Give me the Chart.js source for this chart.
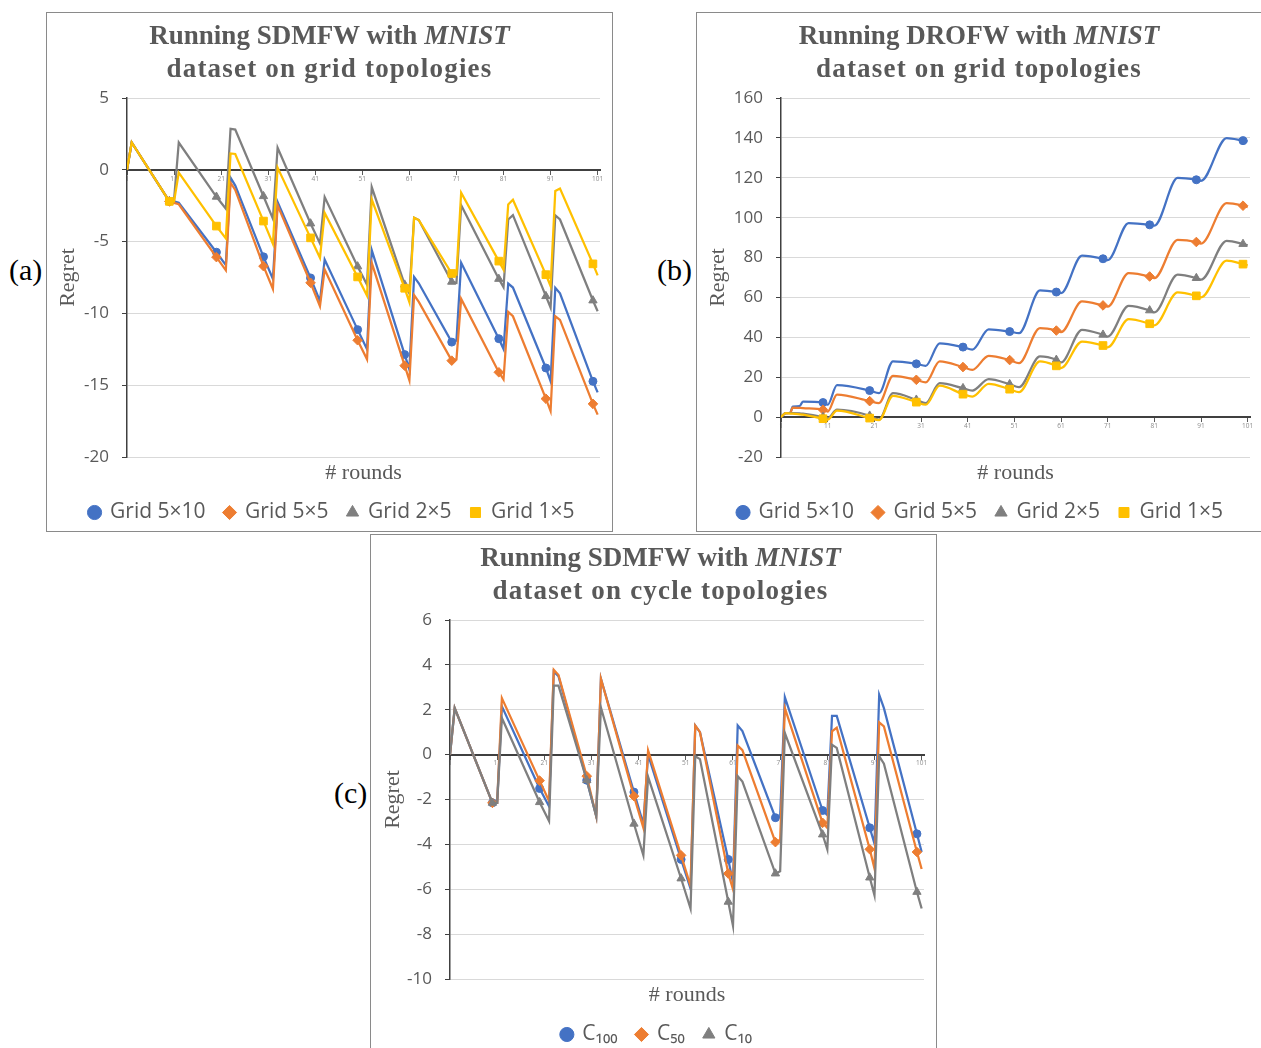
<!DOCTYPE html>
<html>
<head>
<meta charset="utf-8">
<title>Regret of SDMFW / DROFW on MNIST</title>
<script src="https://cdn.jsdelivr.net/npm/chart.js@4.4.1/dist/chart.umd.min.js"></script>
<style>
  html, body { margin: 0; padding: 0; background: #fff; }
  body { position: relative; width: 1261px; height: 1048px; overflow: hidden; }
  .panel { position: absolute; border: 1px solid #8a8a8a; box-sizing: border-box; height: 520px; }
  .panel canvas { position: absolute; left: 0; top: 0; }
  .title { position: absolute; left: 0; right: 0; top: 6px; text-align: center;
           font: bold 27px 'Liberation Serif', serif; color: #595959; line-height: 33px; }
  .title span { letter-spacing: 1.2px; }
  .tag { position: absolute; font: 30px 'Liberation Serif', serif; color: #000; line-height: 30px; }
</style>
</head>
<body>

<div class="tag" style="left:9px; top:255px;">(a)</div>
<div class="tag" style="left:657px; top:255px;">(b)</div>
<div class="tag" style="left:334px; top:778px;">(c)</div>

<div class="panel" style="left:46px; top:12px; width:567px;">
  <canvas id="chartA" width="565" height="518"></canvas>
  <div class="title">Running SDMFW with <i>MNIST</i><br><span>dataset on grid topologies</span></div>
</div>

<div class="panel" style="left:696px; top:12px; width:566px;">
  <canvas id="chartB" width="564" height="518"></canvas>
  <div class="title">Running DROFW with <i>MNIST</i><br><span>dataset on grid topologies</span></div>
</div>

<div class="panel" style="left:370px; top:534px; width:567px;">
  <canvas id="chartC" width="565" height="518"></canvas>
  <div class="title" style="padding-left:14px;">Running SDMFW with <i>MNIST</i><br><span>dataset on cycle topologies</span></div>
</div>

<script>
// round labels on the zero line
const xTickLabels = [1, 11, 21, 31, 41, 51, 61, 71, 81, 91, 101];

// (a) SDMFW, grid topologies: rounds where the curves bend
const roundsA = [1, 2, 10, 11, 12, 20, 22, 23, 24, 30, 32, 33, 40, 42, 43, 50, 52, 53,
  60, 61, 62, 63, 70, 71, 72, 80, 81, 82, 83, 90, 91, 92, 93, 100, 101];
const gridA5x10 = [0, 1.9, -2.2, -2.2, -2.3, -5.74, -6.64, -0.55, -1.1, -6.06, -7.6, -2.25,
  -7.53, -9.15, -6.25, -11.13, -12.5, -5.6, -12.87, -13.9, -7.46, -7.9, -12.0, -11.9, -6.48,
  -11.76, -12.48, -7.92, -8.2, -13.8, -14.73, -8.22, -8.6, -14.73, -15.5];
const gridA5x5 = [0, 1.9, -2.2, -2.3, -2.4, -6.08, -7.0, -0.9, -1.4, -6.71, -8.3, -2.48,
  -7.87, -9.5, -6.94, -11.87, -13.2, -6.48, -13.64, -14.66, -8.73, -9.2, -13.29, -13.2, -8.99,
  -14.1, -14.6, -9.9, -10.2, -15.94, -16.8, -10.2, -10.45, -16.3, -17.05];
const gridA2x5 = [0, 1.9, -2.2, -2.1, 1.9, -1.88, -2.71, 2.86, 2.8, -1.84, -3.4, 1.54,
  -3.74, -5.13, -1.9, -6.73, -8.0, -1.2, -8.0, -8.6, -3.34, -3.5, -7.8, -7.87, -2.46,
  -7.6, -8.18, -3.46, -3.16, -8.8, -9.6, -3.18, -3.46, -9.1, -9.85];
const gridA1x5 = [0, 1.9, -2.2, -2.2, -0.2, -3.92, -4.78, 1.14, 1.1, -3.57, -5.16, 0.15,
  -4.74, -6.13, -3.0, -7.46, -8.76, -2.06, -8.25, -9.22, -3.34, -3.5, -7.22, -7.3, -1.6,
  -6.36, -6.95, -2.41, -2.09, -7.3, -8.1, -1.48, -1.3, -6.55, -7.35];
const yTicksA = [-20, -15, -10, -5, 0, 5];

// (b) DROFW, grid topologies
const roundsB = [1, 2, 3, 3.5, 5, 5.7, 10, 11, 13, 20, 22, 25, 30, 32, 35, 40, 42, 45.5,
  50, 52, 56.5, 60, 61, 65.5, 70, 71, 75.5, 80, 81, 86, 90, 91, 96.5, 100, 101];
const gridB5x10 = [0, 2.0, 2.2, 5.3, 5.5, 7.8, 7.3, 6.2, 16.0, 13.3, 12.0, 28.0, 26.7, 25.7,
  37.0, 35.1, 33.8, 44.0, 42.9, 42.1, 63.5, 62.7, 62.2, 81.0, 79.4, 78.7, 97.3, 96.4, 96.0,
  119.9, 119.0, 118.5, 139.9, 138.6, 138.2];
const gridB5x5 = [0, 2.0, 2.2, 4.8, 4.6, 4.5, 3.7, 2.8, 11.3, 8.0, 7.0, 20.7, 18.7, 17.4,
  27.9, 25.1, 23.7, 30.7, 28.6, 27.1, 44.6, 43.4, 42.6, 58.0, 56.0, 55.4, 72.2, 70.5, 69.7,
  88.9, 87.8, 87.0, 107.3, 106.0, 105.3];
const gridB2x5 = [0, 2.0, 2.0, 2.0, 1.9, 1.7, 0.0, -0.5, 3.7, 0.7, -1.3, 12.0, 8.7, 7.0,
  17.0, 14.5, 13.3, 19.0, 16.5, 15.0, 30.4, 28.7, 27.4, 43.8, 41.3, 40.4, 55.8, 53.5, 52.5,
  71.4, 69.7, 68.9, 88.4, 86.8, 86.1];
const gridB1x5 = [0, 2.0, 1.8, 1.7, 1.4, 1.2, -0.8, -1.3, 3.2, -0.5, -1.5, 10.7, 7.5, 6.2,
  15.8, 11.5, 10.3, 16.7, 14.0, 12.5, 27.9, 25.7, 24.6, 37.9, 35.9, 35.0, 49.1, 46.8, 46.0,
  62.5, 60.8, 60.0, 78.4, 76.7, 76.1];
const yTicksB = [-20, 0, 20, 40, 60, 80, 100, 120, 140, 160];

// (c) SDMFW, cycle topologies
const roundsC = [1, 2, 10, 11, 12, 20, 22, 23, 24, 30, 32, 33, 40, 42, 43, 50, 52, 53, 54,
  60, 61, 62, 63, 70, 71, 72, 80, 81, 82, 83, 90, 91, 92, 93, 100, 101];
const cycle100 = [0, 2.07, -2.15, -2.15, 2.15, -1.51, -2.3, 3.7, 3.5, -1.14, -2.74, 3.38,
  -1.67, -3.1, 0.0, -4.67, -5.97, 1.29, 1.0, -4.67, -5.7, 1.3, 1.05, -2.81, -2.78, 2.56,
  -2.49, -2.7, 1.73, 1.73, -3.26, -3.97, 2.67, 2.07, -3.53, -4.34];
const cycle50 = [0, 2.07, -2.15, -2.15, 2.52, -1.16, -2.07, 3.78, 3.55, -0.96, -2.74, 3.38,
  -1.85, -3.26, 0.19, -4.49, -5.85, 1.29, 1.0, -5.3, -6.0, 0.4, 0.2, -3.9, -3.8, 2.07,
  -3.04, -3.26, 1.04, 1.2, -4.22, -5.08, 1.44, 1.26, -4.34, -5.1];
const cycle10 = [0, 2.07, -2.15, -2.15, 1.63, -2.12, -2.96, 3.07, 3.07, -1.14, -2.74, 2.1,
  -3.08, -4.49, -0.99, -5.52, -6.86, -0.07, -0.2, -6.56, -7.63, -0.96, -1.2, -5.3, -5.2, 0.96,
  -3.56, -4.22, 0.44, 0.3, -5.48, -6.27, -0.07, -0.4, -6.12, -6.86];
const yTicksC = [-10, -8, -6, -4, -2, 0, 2, 4, 6];

const BLUE = '#4472C4', ORANGE = '#ED7D31', GRAY = '#7F7F7F', GOLD = '#FFC000';
const TEXT = '#595959', AXIS = '#404040';

Chart.defaults.font.family = "'Open Sans', sans-serif";

// markers only every tenth round
function series(label, rounds, values, color, style, radius, order) {
  return {
    label,
    data: rounds.map((r, i) => ({ x: r, y: values[i] })),
    borderColor: color,
    backgroundColor: color,
    borderWidth: 2.25,
    pointStyle: style,
    pointBorderWidth: 1,
    pointRadius: c => (c.raw && c.raw.x % 10 === 0 ? radius : 0),
    order,
  };
}

// box: left padding, y-axis width, right padding, y-title offset
function makeChart(id, datasets, yTicks, box, smooth) {
  return new Chart(document.getElementById(id), {
    type: 'line',
    data: { datasets },
    options: {
      responsive: false,
      animation: false,
      events: [],
      layout: { padding: { top: 85, right: box.right, bottom: -2, left: box.left } },
      elements: {
        line: smooth ? { cubicInterpolationMode: 'monotone' } : { tension: 0 },
      },
      plugins: {
        tooltip: { enabled: false },
        legend: {
          position: 'bottom',
          labels: {
            usePointStyle: true,
            boxWidth: 10,
            boxHeight: 10,
            padding: 19,
            color: TEXT,
            font: { size: 21 },
            sort: (a, b) => a.datasetIndex - b.datasetIndex,
          },
        },
      },
      scales: {
        x: {
          type: 'linear',
          position: { y: 0 },
          min: 1,
          max: 101.5,
          afterBuildTicks: s => { s.ticks = xTickLabels.map(v => ({ value: v })); },
          grid: { drawOnChartArea: false, tickLength: 4, tickColor: TEXT },
          border: { color: AXIS, width: 2 },
          ticks: { color: '#8c8c8c', font: { size: 6.5 }, padding: 1, maxRotation: 0, autoSkip: false },
        },
        rounds: {
          type: 'linear',
          position: 'bottom',
          afterFit: s => { s.height = 26; },
          grid: { display: false },
          border: { display: false },
          ticks: { display: false },
          title: {
            display: true,
            text: '# rounds',
            color: TEXT,
            font: { family: "'Liberation Serif', serif", size: 22, lineHeight: 0.91 },
            padding: 0,
          },
        },
        y: {
          type: 'linear',
          min: yTicks[0],
          max: yTicks[yTicks.length - 1],
          afterBuildTicks: s => { s.ticks = yTicks.map(v => ({ value: v })); },
          afterFit: s => { s.width = box.width; },
          grid: { color: '#D9D9D9', tickColor: AXIS, tickLength: 5 },
          border: { color: AXIS, width: 1.5 },
          ticks: { color: TEXT, font: { size: 17 }, padding: 13 },
          title: {
            display: true,
            text: 'Regret',
            color: TEXT,
            font: { family: "'Liberation Serif', serif", size: 22, lineHeight: box.titleOffset * 2 / 22 },
            padding: 0,
          },
        },
      },
    },
  });
}

makeChart('chartA', [
  series('Grid 5×10', roundsA, gridA5x10, BLUE, 'circle', 4, 3),
  series('Grid 5×5', roundsA, gridA5x5, ORANGE, 'rectRot', 4.8, 2),
  series('Grid 2×5', roundsA, gridA2x5, GRAY, 'triangle', 4.8, 1),
  series('Grid 1×5', roundsA, gridA1x5, GOLD, 'rect', 5.4, 0),
], yTicksA, { left: 17, width: 63, right: 12, titleOffset: 4 }, false);

makeChart('chartB', [
  series('Grid 5×10', roundsB, gridB5x10, BLUE, 'circle', 4, 3),
  series('Grid 5×5', roundsB, gridB5x5, ORANGE, 'rectRot', 4.8, 2),
  series('Grid 2×5', roundsB, gridB2x5, GRAY, 'triangle', 4.8, 1),
  series('Grid 1×5', roundsB, gridB1x5, GOLD, 'rect', 5.4, 0),
], yTicksB, { left: 14, width: 70, right: 11, titleOffset: 7 }, true);

makeChart('chartC', [
  series('C₁₀₀', roundsC, cycle100, BLUE, 'circle', 4, 2),
  series('C₅₀', roundsC, cycle50, ORANGE, 'rectRot', 4.8, 1),
  series('C₁₀', roundsC, cycle10, GRAY, 'triangle', 4.8, 0),
], yTicksC, { left: 19, width: 60, right: 12, titleOffset: 3 }, false);
</script>
</body>
</html>
